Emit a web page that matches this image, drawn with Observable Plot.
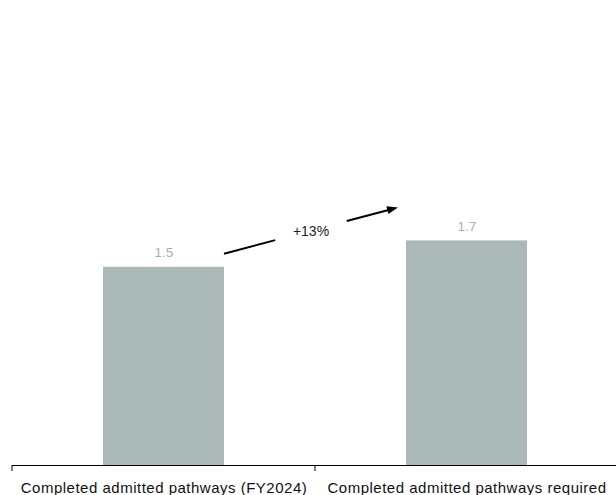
<!DOCTYPE html>
<html>
<head>
<meta charset="utf-8">
<script src="https://cdn.jsdelivr.net/npm/d3@7"></script>
<script src="https://cdn.jsdelivr.net/npm/@observablehq/plot@0.6"></script>
<style>
  html, body { margin: 0; padding: 0; background: #fff; }
  #chart svg { display: block; }
  #chart g[aria-label="x-axis tick label"] text { letter-spacing: 0.5px; }
</style>
</head>
<body>
<div id="chart"></div>
<script>
const categories = ["Completed admitted pathways (FY2024)", "Completed admitted pathways required"];
const values = [1.5, 1.7];
const valueLabels = ["1.5", "1.7"];
const changeLabel = "+13%";

const data = categories.map((c, i) => ({category: c, value: values[i], label: valueLabels[i]}));

const barColor = "#aab8b7";

function boundaryTicks(index, scales, vals, dims) {
  const x = scales.x, y = scales.y;
  const step = x(categories[1]) - x(categories[0]);
  const bw = x.bandwidth ? x.bandwidth() : step * 0.4;
  const y0 = y(0);
  const g = d3.create("svg:g");
  categories.forEach(c => {
    const xb = x(c) + bw / 2 - step / 2;
    g.append("line").attr("x1", xb).attr("x2", xb).attr("y1", y0).attr("y2", y0 + 6)
      .attr("stroke", "#000").attr("stroke-width", 1);
  });
  return g.node();
}

function changeArrow(index, scales, vals, dims) {
  const x = scales.x, y = scales.y;
  const bw = x.bandwidth ? x.bandwidth() : 121;
  const xs = x(categories[0]) + bw, ys = y(values[0]) - 13;
  const xe = x(categories[1]) - 8, ye = y(values[1]) - 33;
  const mx = (xs + xe) / 2, my = (ys + ye) / 2;
  const dx = xe - xs, dy = ye - ys, len = Math.hypot(dx, dy);
  const ux = dx / len, uy = dy / len;
  const gap = 37;
  const head = 11, hw = 4;
  const g = d3.create("svg:g");
  g.append("line").attr("x1", xs).attr("y1", ys).attr("x2", mx - ux * gap).attr("y2", my - uy * gap)
    .attr("stroke", "#000").attr("stroke-width", 2);
  g.append("line").attr("x1", mx + ux * gap).attr("y1", my + uy * gap).attr("x2", xe - ux * head * 0.8).attr("y2", ye - uy * head * 0.8)
    .attr("stroke", "#000").attr("stroke-width", 2);
  const bx = xe - ux * head, by = ye - uy * head;
  g.append("path")
    .attr("d", `M${xe},${ye}L${bx - uy * hw},${by + ux * hw}L${bx + uy * hw},${by - ux * hw}Z`)
    .attr("fill", "#000");
  g.append("text").attr("x", mx).attr("y", my).attr("text-anchor", "middle").attr("dominant-baseline", "central")
    .attr("font-family", "Liberation Sans, Arial, sans-serif").attr("font-size", 14).attr("fill", "#222")
    .text(changeLabel);
  return g.node();
}

const chart = Plot.plot({
  width: 616,
  height: 495,
  marginTop: 29,
  marginBottom: 30,
  marginLeft: 12,
  marginRight: -2,
  style: {fontFamily: "Liberation Sans, Arial, sans-serif", background: "#fff"},
  x: {domain: categories, paddingInner: 0.6, paddingOuter: 0.3, label: null},
  y: {domain: [0, 3.3], axis: null},
  marks: [
    Plot.barY(data, {x: "category", y: "value", fill: barColor}),
    Plot.text(data, {x: "category", y: "value", text: "label", dy: -10, lineAnchor: "bottom", fill: "#a3b3b3", fontSize: 13.5}),
    Plot.ruleY([0], {stroke: "#000", strokeWidth: 1}),
    boundaryTicks,
    changeArrow,
    Plot.axisX({tickSize: 0, tickPadding: 17, fontSize: 15, fill: "#111", label: null})
  ]
});
document.getElementById("chart").append(chart);
</script>
</body>
</html>
